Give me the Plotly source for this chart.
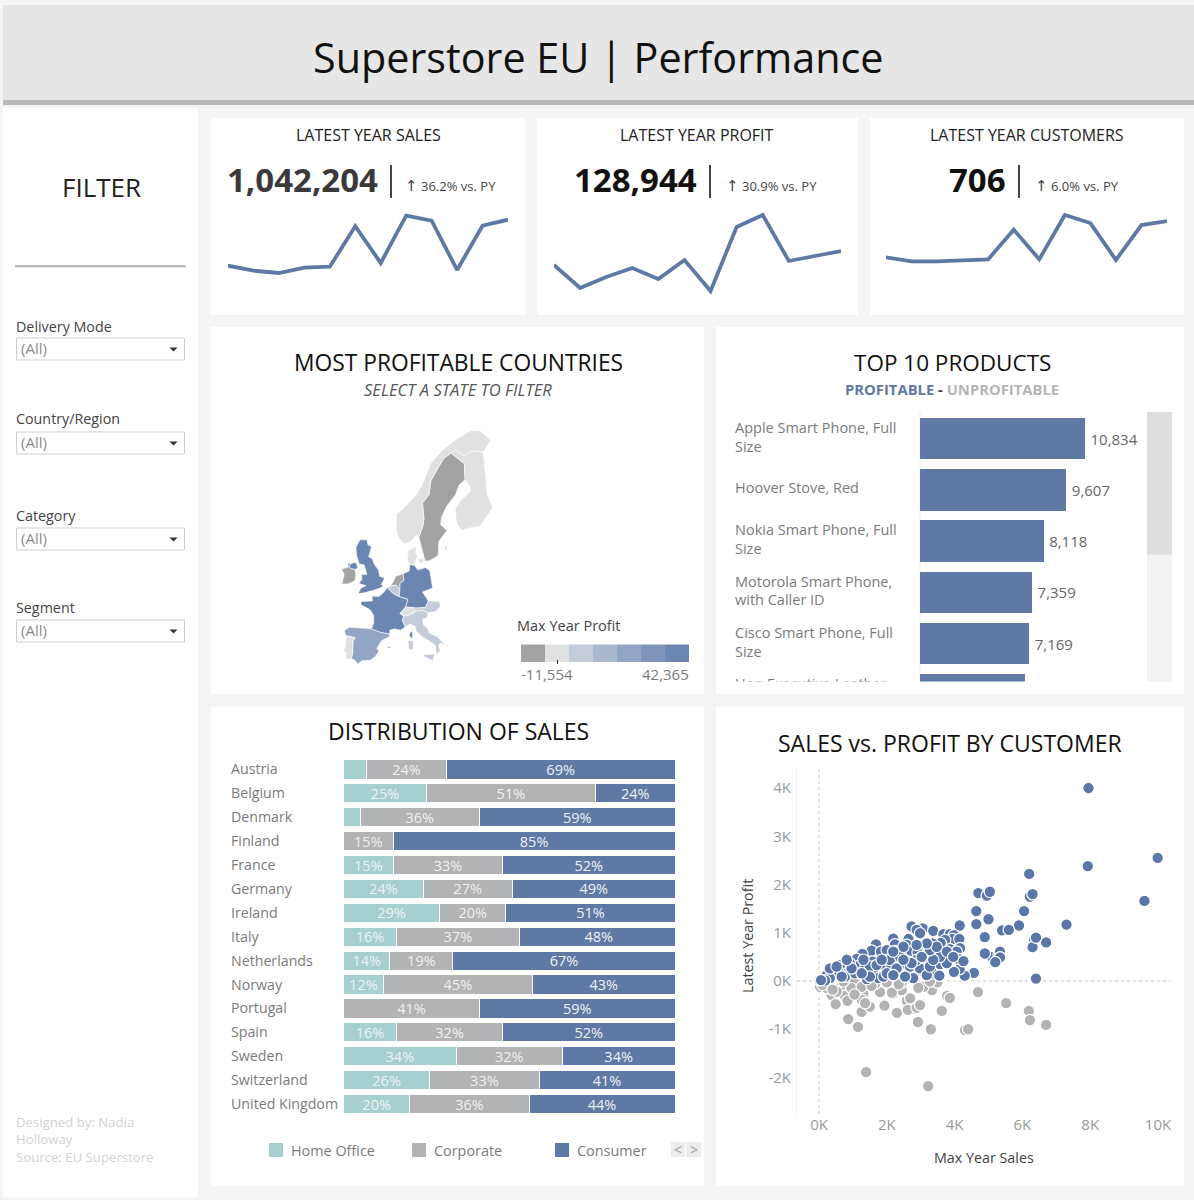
import math
import plotly.graph_objects as go

W, H = 1194, 1200
FONT = "Open Sans"
BLUE = "#5f79a5"
GREY = "#b2b3b5"
TEAL = "#a6d0cf"
TEXT_GREY = "#7b7b7b"

# ---- KPI cards ----
months = ["Jan", "Feb", "Mar", "Apr", "May", "Jun", "Jul", "Aug", "Sep", "Oct", "Nov", "Dec"]
sales_monthly = [54000, 44400, 40000, 50200, 52100, 129700, 59200, 150000, 140400, 45800, 130800, 142300]
profit_monthly = [9500, 3750, 6500, 8750, 6000, 10750, 3000, 19000, 22000, 10500, 11750, 13000]
customers_monthly = [37, 31, 31, 33, 34, 78, 34, 100, 88, 33, 85, 91]

# ---- Top products ----
products = [
    "Apple Smart Phone, Full<br>Size",
    "Hoover Stove, Red",
    "Nokia Smart Phone, Full<br>Size",
    "Motorola Smart Phone,<br>with Caller ID",
    "Cisco Smart Phone, Full<br>Size",
    "Hon Executive Leather<br>Armchair, Adjustable",
]
product_profit = [10834, 9607, 8118, 7359, 7169, 6894]

# ---- Segment mix per country (percent of sales) ----
countries = ["Austria", "Belgium", "Denmark", "Finland", "France", "Germany", "Ireland", "Italy",
             "Netherlands", "Norway", "Portugal", "Spain", "Sweden", "Switzerland", "United Kingdom"]
home_office = [7, 25, 5, 0, 15, 24, 29, 16, 14, 12, 0, 16, 34, 26, 20]
corporate = [24, 51, 36, 15, 33, 27, 20, 37, 19, 45, 41, 32, 32, 33, 36]
consumer = [69, 24, 59, 85, 52, 49, 51, 48, 67, 43, 59, 52, 34, 41, 44]

# ---- Customers: max year sales / latest year profit, in thousands ----
profitable_sales = [
    7.95, 7.93, 9.99, 9.60, 7.30, 6.70, 6.35, 6.30, 6.40, 5.90, 5.40, 5.20, 5.10, 5.30, 4.70, 4.95, 5.04, 4.64,
    4.64, 5.00, 4.89, 5.60, 4.89, 5.34, 5.34, 5.20, 4.57, 4.30, 4.15, 3.98, 4.15, 6.05, 6.22, 6.20, 6.40, 6.30,
    2.73, 3.06, 2.88, 2.98, 3.37, 3.67, 3.86, 3.98, 3.94, 4.14, 3.72, 3.59, 3.35, 2.64, 2.19, 2.24, 2.59, 1.68,
    1.55, 1.83, 2.00, 2.24, 2.44, 2.73, 2.93, 2.91, 3.37, 3.86, 4.16, 4.06, 1.28, 1.11, 2.00, 2.29, 2.64, 2.98,
    3.24, 3.57, 3.77, 4.11, 4.26, 1.58, 1.16, 1.33, 0.91, 0.77, 0.62, 0.42, 0.23, 0.57, 0.77, 1.06, 1.41, 1.58,
    1.75, 1.90, 1.92, 2.14, 2.44, 2.34, 2.64, 2.78, 3.06, 3.35, 3.55, 1.50, 1.70, 2.09, 2.39, 2.68, 2.98, 3.18,
    3.27, 3.77, 3.57, 3.37, 1.50, 1.26, 0.96, 0.67, 0.32, 0.18, 0.02, 0.32, 0.52, 0.82, 1.31, 1.85, 2.49, 3.27,
    2.29, 2.00, 2.19, 2.54, 2.88, 3.03, 2.73, 3.77, 3.96, 3.47, 3.18, 2.88, 2.49, 2.19, 0.06,
]
profitable_profit = [
    4.00, 2.38, 2.55, 1.66, 1.17, 0.80, 0.85, 0.70, 0.90, 1.15, 1.05, 0.45, 0.50, 0.55, 1.82, 1.77, 1.85, 1.45,
    1.18, 1.28, 0.91, 1.06, 0.57, 0.61, 0.49, 0.39, 0.17, 0.11, 0.25, 0.19, 1.15, 1.45, 1.75, 2.22, 0.05, 1.80,
    1.13, 1.09, 1.06, 0.99, 1.04, 0.97, 0.97, 0.95, 0.87, 0.87, 0.85, 0.79, 0.78, 0.87, 0.88, 0.76, 0.75, 0.76,
    0.63, 0.61, 0.64, 0.62, 0.57, 0.61, 0.71, 0.59, 0.59, 0.66, 0.68, 0.61, 0.56, 0.46, 0.44, 0.49, 0.40, 0.45,
    0.44, 0.35, 0.47, 0.46, 0.41, 0.40, 0.31, 0.23, 0.37, 0.24, 0.33, 0.16, 0.12, 0.19, 0.09, 0.16, 0.04, 0.19,
    0.06, 0.09, 0.33, 0.30, 0.31, 0.19, 0.16, 0.06, 0.21, 0.16, 0.11, 0.30, 0.33, 0.44, 0.50, 0.30, 0.26, 0.12,
    0.30, 0.37, 0.50, 0.44, 0.09, 0.16, 0.26, 0.09, 0.06, 0.01, 0.02, 0.26, 0.30, 0.44, 0.44, 0.44, 0.71, 0.64,
    0.26, 0.16, 0.12, 0.09, 0.44, 0.50, 0.37, 0.61, 0.50, 0.71, 0.78, 0.75, 0.44, 0.61, 0.02,
]
loss_sales = [
    1.39, 3.22, 0.86, 1.15, 2.83, 2.92, 3.30, 4.31, 4.40, 4.69, 5.52, 6.19, 6.22, 6.70, 3.60, 3.78, 2.30, 1.03,
    0.67, 0.37, 0.49, 0.77, 0.84, 1.31, 1.26, 1.26, 1.50, 1.36, 1.80, 1.93, 2.19, 2.44, 2.44, 2.00, 1.65, 2.59,
    2.69, 2.62, 2.88, 2.98, 3.62, 3.86, 3.33, 3.08, 2.93, 3.49, 3.27, 0.03, 0.23, 0.52, 0.96, 1.26, 0.23, 0.72,
    0.10, 0.40, 1.05, 2.15, 1.55, 2.35,
]
loss_profit = [
    -1.89, -2.18, -0.79, -0.95, -0.58, -0.85, -1.00, -1.02, -1.00, -0.23, -0.46, -0.62, -0.81, -0.91, -0.62, -0.31,
    -0.66, -0.01, -0.08, -0.29, -0.48, -0.31, -0.41, -0.26, -0.39, -0.64, -0.53, -0.46, -0.23, -0.51, -0.26, -0.19,
    -0.03, -0.03, -0.06, -0.41, -0.36, -0.60, -0.55, -0.50, -0.62, -0.35, -0.19, -0.12, -0.14, -0.03, -0.01, -0.12,
    -0.15, -0.22, -0.15, -0.12, -0.05, -0.01, -0.08, -0.18, -0.28, -0.24, -0.10, -0.07,
]

# ---- Map: profit per country and outlines as (lon, lat) rings ----
country_profit = {
    "Sweden": -11554, "Ireland": -8200, "Netherlands": -9100, "Norway": 1100, "Finland": 900, "Denmark": 300,
    "Switzerland": 1500, "Portugal": 2300, "Austria": 7800, "Italy": 8100, "Belgium": 6400, "Spain": 20700,
    "United Kingdom": 38200, "France": 42365, "Germany": 37100,
}
profit_steps = ["#a3a3a3", "#e0e1e1", "#c3ccd9", "#a9b7cf", "#93a5c4", "#7e94ba", "#6b86b0"]
outlines = {
    "Spain": [[(-9.3, 43.0), (-8.0, 43.7), (-5.8, 43.6), (-3.0, 43.4), (-1.8, 43.4), (0.7, 42.7), (3.2, 42.4),
               (3.1, 41.8), (1.0, 41.0), (0.3, 40.2), (-0.3, 39.4), (0.2, 38.7), (-0.7, 37.7), (-2.1, 36.8),
               (-4.4, 36.7), (-5.6, 36.0), (-6.4, 36.8), (-7.4, 37.2), (-7.0, 38.2), (-7.0, 39.7), (-6.9, 41.0),
               (-6.2, 41.6), (-8.1, 41.9), (-8.8, 42.0)],
              [(2.4, 39.6), (3.4, 39.9), (3.2, 39.3)]],
    "Portugal": [[(-8.8, 42.0), (-8.1, 41.9), (-6.2, 41.6), (-6.9, 41.0), (-7.0, 39.7), (-7.0, 38.2), (-7.4, 37.2),
                  (-8.9, 37.0), (-8.8, 38.4), (-9.5, 38.8), (-8.9, 40.2)]],
    "France": [[(2.5, 51.1), (4.2, 50.0), (5.8, 49.5), (8.2, 49.0), (7.6, 47.6), (6.0, 46.4), (7.0, 45.9), (6.7, 45.0),
                (7.5, 43.8), (6.2, 43.1), (4.5, 43.4), (3.2, 43.1), (3.2, 42.4), (0.7, 42.7), (-1.8, 43.4),
                (-1.2, 44.6), (-1.2, 46.0), (-2.2, 47.1), (-4.7, 48.0), (-4.7, 48.6), (-1.6, 48.7), (-1.6, 49.6),
                (0.2, 49.5), (1.5, 50.2)],
               [(8.6, 42.4), (9.4, 43.0), (9.5, 42.0), (9.2, 41.4), (8.7, 41.8)]],
    "Belgium": [[(2.5, 51.1), (3.4, 51.4), (5.0, 51.5), (6.0, 50.8), (5.8, 49.5), (4.2, 50.0)]],
    "Netherlands": [[(3.4, 51.4), (4.1, 52.0), (4.8, 53.0), (6.9, 53.4), (7.1, 52.3), (6.0, 51.8), (6.0, 50.8),
                     (5.0, 51.5)]],
    "Germany": [[(6.0, 50.8), (6.0, 51.8), (7.1, 52.3), (6.9, 53.4), (8.6, 53.9), (8.7, 54.9), (9.9, 54.8), (11.0, 54.0),
                 (13.0, 54.4), (14.2, 53.9), (14.7, 52.0), (15.0, 51.0), (12.2, 50.3), (13.8, 48.7), (13.0, 47.5),
                 (10.4, 47.4), (7.6, 47.6), (8.2, 49.0), (5.8, 49.5)]],
    "Switzerland": [[(6.0, 46.4), (7.6, 47.6), (9.6, 47.5), (10.4, 46.8), (9.3, 46.3), (8.3, 46.0), (7.0, 45.9)]],
    "Austria": [[(9.6, 47.5), (10.4, 47.4), (13.0, 47.5), (13.8, 48.7), (16.9, 48.6), (17.1, 47.7), (16.0, 46.8),
                 (13.7, 46.5), (12.2, 47.0), (10.4, 46.8)]],
    "Italy": [[(7.0, 45.9), (8.3, 46.0), (9.3, 46.3), (10.4, 46.8), (12.2, 47.0), (13.7, 46.5), (13.6, 45.7),
               (12.3, 45.3), (12.4, 44.2), (13.6, 43.5), (14.1, 42.5), (16.1, 41.9), (18.5, 40.1), (17.0, 40.5),
               (16.6, 39.7), (17.1, 39.0), (16.0, 37.95), (15.8, 38.9), (15.7, 40.0), (14.3, 40.8), (12.3, 41.7),
               (10.5, 42.9), (10.2, 43.9), (8.8, 44.4), (7.5, 43.8), (6.7, 45.0)],
              [(12.4, 38.0), (15.6, 38.2), (15.1, 36.7), (12.6, 37.6)],
              [(8.2, 40.9), (9.7, 41.0), (9.6, 39.2), (8.5, 39.0)]],
    "United Kingdom": [[(-5.5, 50.0), (-3.5, 50.2), (-1.2, 50.6), (1.4, 51.2), (0.9, 51.6), (1.8, 52.7), (0.4, 53.0),
                        (0.1, 54.0), (-1.1, 55.0), (-1.6, 55.8), (-2.6, 56.1), (-1.8, 57.6), (-2.8, 57.9),
                        (-3.0, 58.6), (-5.0, 58.6), (-6.1, 57.5), (-5.9, 56.3), (-5.2, 55.0), (-3.8, 54.8),
                        (-3.5, 53.9), (-3.1, 53.3), (-4.6, 53.3), (-4.4, 52.5), (-5.3, 51.8), (-3.3, 51.4),
                        (-4.7, 51.0)],
                       [(-7.3, 55.1), (-6.1, 55.2), (-5.5, 54.4), (-6.3, 54.1), (-7.4, 54.2), (-8.1, 54.5)]],
    "Ireland": [[(-8.1, 54.5), (-7.4, 54.2), (-6.3, 54.1), (-6.1, 53.2), (-6.4, 52.2), (-8.4, 51.7), (-10.0, 51.7),
                 (-9.3, 53.2), (-10.0, 54.2), (-8.4, 54.4), (-8.3, 55.1), (-7.3, 55.1)]],
    "Denmark": [[(8.7, 54.9), (8.1, 55.6), (8.2, 57.0), (10.6, 57.7), (10.3, 56.6), (10.9, 56.3), (9.9, 54.8)],
                [(11.1, 55.7), (12.6, 56.0), (12.3, 55.1), (11.2, 55.2)]],
    "Sweden": [[(11.2, 59.0), (12.3, 60.5), (12.6, 61.5), (12.2, 63.5), (14.0, 64.5), (14.5, 66.1), (16.5, 67.5),
                (18.1, 68.5), (20.1, 69.0), (23.7, 67.9), (23.9, 66.2), (22.2, 65.6), (21.3, 64.5), (19.0, 63.2),
                (17.4, 61.7), (17.2, 60.7), (18.9, 59.9), (16.7, 58.4), (16.5, 56.3), (14.3, 55.5), (12.9, 55.4),
                (11.9, 57.5)],
               [(18.2, 57.0), (19.0, 57.9), (18.9, 57.3)]],
    "Norway": [[(11.2, 59.0), (12.3, 60.5), (12.6, 61.5), (12.2, 63.5), (14.0, 64.5), (14.5, 66.1), (16.5, 67.5),
                (18.1, 68.5), (20.1, 69.0), (21.3, 69.3), (23.7, 68.7), (25.7, 69.2), (28.9, 69.1), (31.0, 70.2),
                (28.0, 71.1), (25.5, 71.1), (21.0, 70.2), (17.5, 69.2), (14.5, 68.0), (12.5, 66.0), (10.5, 64.5),
                (8.0, 63.3), (5.0, 62.0), (5.0, 60.0), (5.7, 58.8), (7.2, 58.0), (9.0, 58.4), (10.6, 59.3)]],
    "Finland": [[(23.0, 59.9), (25.5, 60.3), (28.0, 60.5), (31.5, 62.9), (30.0, 64.5), (29.5, 66.9), (29.0, 69.0),
                 (28.9, 69.1), (25.7, 69.2), (23.7, 68.7), (21.3, 69.3), (20.1, 69.0), (23.7, 67.9), (23.9, 66.2),
                 (25.3, 65.4), (25.4, 64.9), (22.7, 63.8), (21.2, 62.8), (21.5, 61.0)]],
}
PROFIT_MIN, PROFIT_MAX = -11554, 42365


def px_x(x):
    return x / W


def px_y(y):
    return 1 - y / H


def dom_x(l, r):
    return [px_x(l), px_x(r)]


def dom_y(t, b):
    return [px_y(b), px_y(t)]


def mercator(lat):
    return math.log(math.tan(math.pi / 4 + math.radians(lat) / 2))


shapes, notes = [], []


def rect(l, t, r, b, fill, line=None, layer="below"):
    shapes.append(dict(type="rect", xref="paper", yref="paper", x0=px_x(l), x1=px_x(r), y0=px_y(b), y1=px_y(t),
                       fillcolor=fill, line=dict(color=line or fill, width=1 if line else 0), layer=layer))


def vline(x, t, b, color, width=1):
    shapes.append(dict(type="line", xref="paper", yref="paper", x0=px_x(x), x1=px_x(x), y0=px_y(t), y1=px_y(b),
                       line=dict(color=color, width=width), layer="below"))


def label(x, y, text, size=14.5, color="#333333", anchor="center", family=FONT, **kw):
    # annotations carry a little inner padding, so edge-anchored text is nudged outward
    nudge = {"left": -2, "right": 2}.get(anchor, 0)
    notes.append(dict(xref="paper", yref="paper", x=px_x(x + nudge), y=px_y(y - 1), text=text, showarrow=False,
                      xanchor=anchor, yanchor="middle", align="left" if anchor == "left" else "center",
                      font=dict(family=family, size=size, color=color), **kw))


# page furniture
rect(3, 5, 1194, 100, "#e6e6e6")
rect(3, 100, 1194, 105, "#b9b9b9")
rect(3, 108, 198, 1197, "#ffffff")
for box in [(211, 118, 525, 315), (537, 118, 858, 315), (870, 118, 1184, 315), (211, 327, 704, 694),
            (716, 327, 1184, 694), (211, 707, 704, 1186), (716, 707, 1184, 1186)]:
    rect(*box, "#ffffff")

label(598, 58, "Superstore EU | Performance", size=41.3, color="#111111")

# filter column
label(101, 188, "FILTER", size=26, color="#222222")
rect(15, 265, 186, 267.5, "#bdbdbd")
for name, text_y, top in [("Delivery Mode", 327, 338), ("Country/Region", 420, 432), ("Category", 517, 528),
                          ("Segment", 608, 620)]:
    label(16, text_y, name, size=14.3, color="#444444", anchor="left")
    rect(16.5, top, 184.5, top + 22, "#ffffff", "#cfcfcf")
    label(21, top + 11, "(All)", size=15, color="#8a8a8a", anchor="left")
    shapes.append(dict(type="path", xref="paper", yref="paper", layer="below", fillcolor="#333333", line=dict(width=0),
                       path=f"M {px_x(169.5)} {px_y(top + 9.5)} L {px_x(177.5)} {px_y(top + 9.5)} "
                            f"L {px_x(173.5)} {px_y(top + 13.5)} Z"))
for y, line in [(1123, "Designed by: Nadia"), (1140, "Holloway"), (1158, "Source: EU Superstore")]:
    label(16, y, line, size=13.2, color="#d2d2d2", anchor="left")

fig = go.Figure()

# KPI cards: heading, figure, divider, change, and a monthly sparkline
kpi_cards = [
    dict(title="LATEST YEAR SALES", cx=368, value="1,042,204", vx=302.5, vc="#3a3a3a", bar=391, note="36.2% vs. PY",
         nx=405, series=sales_monthly, left=228, right=508, yr=[-31040, 170560]),
    dict(title="LATEST YEAR PROFIT", cx=697, value="128,944", vx=635, vc="#111111", bar=710, note="30.9% vs. PY",
         nx=726, series=profit_monthly, left=554, right=841, yr=[-1750, 24500]),
    dict(title="LATEST YEAR CUSTOMERS", cx=1027, value="706", vx=977, vc="#111111", bar=1019, note="6.0% vs. PY",
         nx=1035, series=customers_monthly, left=886, right=1167, yr=[-41.5, 114.9]),
]
layout_axes = {}
for i, card in enumerate(kpi_cards, start=1):
    label(card["cx"], 136, card["title"], size=16, color="#222222")
    label(card["vx"], 180, f"<b>{card['value']}</b>", size=33, color=card["vc"])
    vline(card["bar"], 165, 198, "#444444", 2)
    label(card["nx"], 187, "↑", size=15, color="#444444", anchor="left", family="DejaVu Sans")
    label(card["nx"] + 16, 187, card["note"], size=13, color="#444444", anchor="left")
    suffix = "" if i == 1 else str(i)
    fig.add_trace(go.Scatter(x=list(range(12)), y=card["series"], mode="lines", text=months,
                             line=dict(color=BLUE, width=3.8), xaxis=f"x{suffix}", yaxis=f"y{suffix}",
                             showlegend=False, cliponaxis=False))
    layout_axes[f"xaxis{suffix}"] = dict(domain=dom_x(card["left"], card["right"]), range=[0, 11], visible=False)
    layout_axes[f"yaxis{suffix}"] = dict(domain=dom_y(205, 310), range=card["yr"], visible=False)

# choropleth map drawn as filled country outlines
label(458, 363, "MOST PROFITABLE COUNTRIES", size=22.8, color="#111111")
label(458, 390, "<i>SELECT A STATE TO FILTER</i>", size=16.6, color="#555555")


def step_color(value):
    span = (PROFIT_MAX - PROFIT_MIN) / len(profit_steps)
    return profit_steps[min(int((value - PROFIT_MIN) / span), len(profit_steps) - 1)]


for name, rings in outlines.items():
    xs, ys = [], []
    for ring in rings:
        xs += [p[0] for p in ring] + [ring[0][0], None]
        ys += [mercator(p[1]) for p in ring] + [mercator(ring[0][1]), None]
    fig.add_trace(go.Scatter(x=xs, y=ys, mode="lines", fill="toself", fillcolor=step_color(country_profit[name]),
                             line=dict(color="#ffffff", width=0.6), name=name, showlegend=False,
                             xaxis="x4", yaxis="y4"))
layout_axes["xaxis4"] = dict(domain=dom_x(320, 510), range=[-15.96, 36.24], visible=False)
layout_axes["yaxis4"] = dict(domain=dom_y(425, 675), range=[0.621, 1.820], visible=False)

label(517, 626, "Max Year Profit", size=14.5, color="#444444", anchor="left")
for i, color in enumerate(profit_steps):
    rect(521 + i * 24, 644.5, 521 + (i + 1) * 24, 662, color)
vline(557.5, 660, 664, "#333333", 1)
label(521, 675, f"{PROFIT_MIN:,}", size=15, color=TEXT_GREY, anchor="left")
label(689, 675, f"{PROFIT_MAX:,}", size=15, color=TEXT_GREY, anchor="right")

# top products
label(952, 363, "TOP 10 PRODUCTS", size=22.5, color="#111111")
label(952, 390, f"<b><span style='color:{BLUE}'>PROFITABLE</span> <span style='color:#444444'>-</span> "
                f"<span style='color:#b5b5b5'>UNPROFITABLE</span></b>", size=14.8)
rect(1147, 412, 1172, 682, "#f3f3f3")
rect(1147, 412, 1172, 554.5, "#dedede")
vline(920, 412, 682, "#ececec", 1)
rows = list(range(len(products)))
fig.add_trace(go.Bar(x=product_profit, y=rows, orientation="h", width=0.81, marker=dict(color=BLUE, line=dict(width=0)),
                     text=[f"\u2009{v:,}" for v in product_profit], textposition="outside", cliponaxis=True,
                     textfont=dict(family=FONT, size=15, color="#666666"), showlegend=False,
                     xaxis="x5", yaxis="y5"))
fig.add_trace(go.Scatter(x=[-12147] * len(products), y=rows, mode="text", text=products, textposition="middle right",
                         textfont=dict(family=FONT, size=14.5, color=TEXT_GREY), showlegend=False, cliponaxis=True,
                         xaxis="x5", yaxis="y5"))
layout_axes["xaxis5"] = dict(domain=dom_x(730, 1145), range=[-12475, 14773], visible=False)
layout_axes["yaxis5"] = dict(domain=dom_y(412, 681.5), range=[4.737, -0.5166], visible=False)

# stacked segment mix
label(458, 732, "DISTRIBUTION OF SALES", size=23, color="#111111")
for name, values, color in [("Home Office", home_office, TEAL), ("Corporate", corporate, GREY),
                            ("Consumer", consumer, BLUE)]:
    fig.add_trace(go.Bar(y=countries, x=values, orientation="h", name=name, width=0.8, showlegend=False,
                         marker=dict(color=color, line=dict(color="#ffffff", width=1)),
                         text=[f"{v}%" if v >= 10 else "" for v in values], textposition="inside",
                         insidetextanchor="middle", textangle=0, constraintext="none",
                         textfont=dict(family=FONT, size=14.5, color="#eef2f4"), xaxis="x6", yaxis="y6"))
layout_axes["xaxis6"] = dict(domain=dom_x(343.5, 675), range=[0, 100], visible=False)
layout_axes["yaxis6"] = dict(domain=dom_y(757.5, 1116), categoryorder="array", categoryarray=countries,
                             range=[14.5, -0.5], visible=False)
for country in countries:
    notes.append(dict(xref="paper", yref="y6", x=px_x(229), y=country, text=country, showarrow=False, xanchor="left",
                      yanchor="middle", yshift=0.5, font=dict(family=FONT, size=14.2, color=TEXT_GREY)))
for x, name, color in [(269, "Home Office", TEAL), (412, "Corporate", GREY), (555, "Consumer", BLUE)]:
    rect(x, 1143, x + 14, 1157, color)
    label(x + 22, 1151, name, size=14.4, color=TEXT_GREY, anchor="left")
rect(671, 1142, 685, 1157, "#ececec")
rect(686, 1142, 701, 1157, "#ececec")
label(678, 1150, "<", size=14, color="#a0a0a0")
label(693.5, 1150, ">", size=14, color="#a0a0a0")

# customer scatter
label(950, 744, "SALES vs. PROFIT BY CUSTOMER", size=23, color="#111111")
for xs, ys, color in [(loss_sales, loss_profit, "#b2b3b5"), (profitable_sales, profitable_profit, "#5a77a8")]:
    fig.add_trace(go.Scatter(x=xs, y=ys, mode="markers", showlegend=False, xaxis="x7", yaxis="y7", cliponaxis=False,
                             marker=dict(size=11.5, color=color, line=dict(color="#ffffff", width=1.2))))
tick_font = dict(family=FONT, size=15, color="#9a9a9a")
x_ticks, y_ticks = [0, 2, 4, 6, 8, 10], [-2, -1, 0, 1, 2, 3, 4]
layout_axes["xaxis7"] = dict(domain=dom_x(797, 1170), range=[-0.649, 10.354], tickvals=x_ticks,
                             ticktext=[f"{v}K" for v in x_ticks], tickfont=tick_font, showgrid=False, zeroline=False,
                             ticks="", showline=False, anchor="y7")
layout_axes["yaxis7"] = dict(domain=dom_y(768, 1114), range=[-2.757, 4.415], tickvals=y_ticks,
                             ticktext=[f"{v}K" for v in y_ticks], tickfont=tick_font, showgrid=False, zeroline=False,
                             ticks="", showline=True, linecolor="#f0f0f0", anchor="x7", ticklabelstandoff=2)
shapes.append(dict(type="line", xref="x7", yref="y7 domain", x0=0, x1=0, y0=0, y1=1, layer="below",
                   line=dict(color="#c4c4c4", width=1, dash="dot")))
shapes.append(dict(type="line", xref="x7 domain", yref="y7", x0=0, x1=1, y0=0, y1=0, layer="below",
                   line=dict(color="#c4c4c4", width=1, dash="dot")))
label(747, 937, "Latest Year Profit", size=14.3, color="#444444", textangle=-90)
label(984, 1158, "Max Year Sales", size=14.3, color="#444444")

fig.update_layout(
    width=W, height=H, margin=dict(l=0, r=0, t=0, b=0, autoexpand=False), paper_bgcolor="#f5f5f5",
    plot_bgcolor="rgba(0,0,0,0)", barmode="stack", shapes=shapes, annotations=notes, font=dict(family=FONT),
    hovermode=False, **layout_axes,
)
fig.write_html("out.html", config=dict(displayModeBar=False))
